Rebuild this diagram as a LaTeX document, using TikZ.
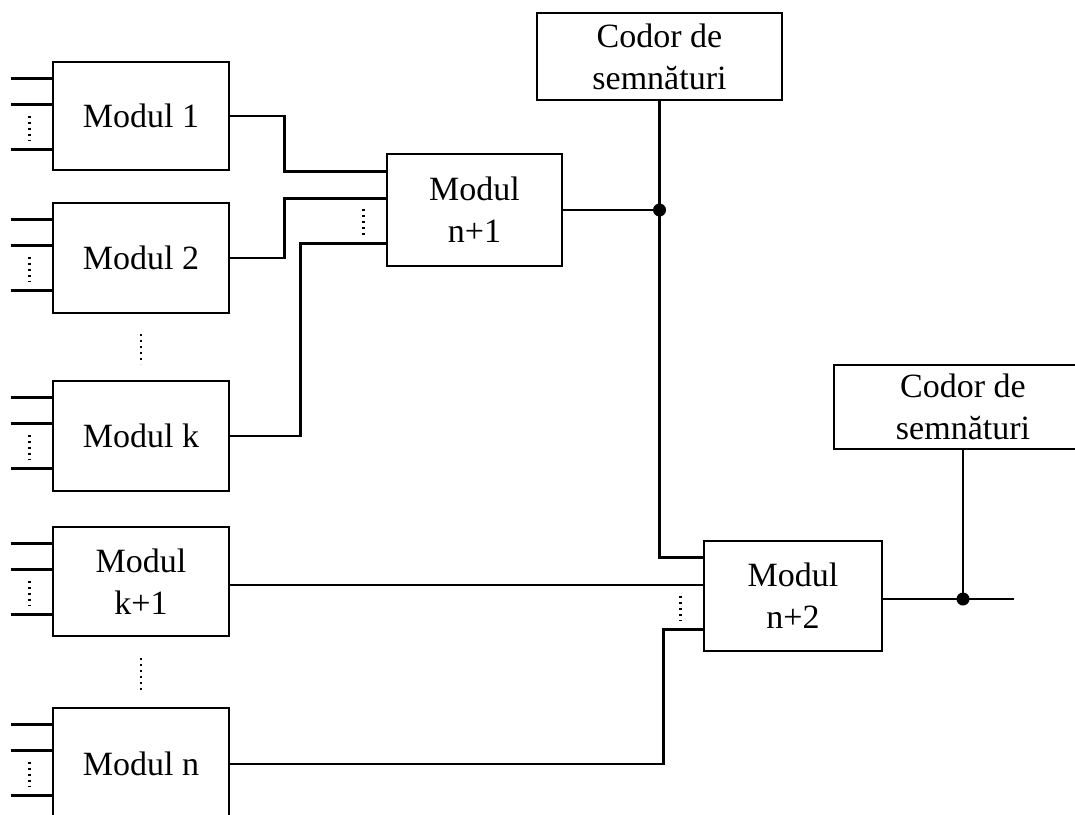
\documentclass[tikz,border=0pt]{standalone}
\usepackage{fontspec}
\setmainfont{Liberation Serif}
\usetikzlibrary{calc}
\begin{document}
\begin{tikzpicture}[x=0.5pt,y=-0.5pt,
  box/.style={draw, line width=1.4pt, inner sep=0pt, align=center,
    font=\fontsize{17}{21}\selectfont},
  modbox/.style={box, minimum width=88pt, minimum height=55pt},
  wire/.style={line width=1.4pt},
  dotline/.style={line width=1.2pt, dash pattern=on 1pt off 2pt},
  junction/.style={circle, fill, inner sep=0pt, minimum size=6.5pt}]
\useasboundingbox (0,0) rectangle (1075,814);
\clip (0,0) rectangle (1075,814);
\fill[white] (0,0) rectangle (1075,814);
% modules
\node[modbox, minimum height=54pt] (m1) at (141,116) {Modul 1};
\node[modbox] (m2) at (141,258) {Modul 2};
\node[modbox] (mk) at (141,436) {Modul k};
\node[modbox, minimum height=54.5pt] (mk1) at (141,581.5) {Modul\\k+1};
\node[modbox, minimum height=56pt] (mn) at (141,764) {Modul n};
\node[box, minimum width=87.5pt, minimum height=56pt] (n1) at (474.5,210) {Modul\\n+1};
\node[box, minimum width=89pt, minimum height=55pt] (n2) at (793,596) {Modul\\n+2};
\node[box, minimum width=122.5pt, minimum height=43.5pt] (c1) at (659.5,56.5) {Codor de\\semnături};
\node[box, minimum width=129pt, minimum height=42pt] (c2) at (963,407) {Codor de\\semnături};
% input stubs
\foreach \m in {m1,m2,mk,mk1,mn} {
  \draw[wire] ($(\m.north west)+(-41,18)$) -- ($(\m.north west)+(0,18)$);
  \draw[wire] ($(\m.north west)+(-41,44)$) -- ($(\m.north west)+(0,44)$);
  \draw[wire] ($(\m.north west)+(-41,89)$) -- ($(\m.north west)+(0,89)$);
  \draw[dotline] ($(\m.north west)+(-22,55)$) -- ($(\m.north west)+(-22,80)$);
}
% vertical dots between modules
\coordinate (d1a) at (141,334); \coordinate (d1b) at (141,364);
\coordinate (d2a) at (141,658); \coordinate (d2b) at (141,690);
\draw[dotline] (d1a) -- (d1b);
\draw[dotline] (d2a) -- (d2b);
% connections to n+1
\draw[wire] (m1.east) -- ++(54,0) |- ($(n1.north west)+(0,19)$);
\draw[wire] (m2.east) -- ++(54,0) |- ($(n1.north west)+(0,46)$);
\draw[wire] (mk.east) -- ++(70,0) |- ($(n1.north west)+(0,91)$);
\draw[dotline] ($(n1.north west)+(-22,56)$) -- ($(n1.north west)+(-22,83)$);
% n+1 output and coder
\coordinate (j1) at (c1.south |- n1.east);
\draw[wire] (n1.east) -- (j1);
\draw[wire] (c1.south) |- ($(n2.north west)+(0,18)$);
\node[junction] at (j1) {};
% connections to n+2
\coordinate (k1o) at ($(mk1.east)+(0,3.5)$);
\draw[wire] (k1o) -- (k1o -| n2.west);
\draw[wire] (mn.east) -- ++(433,0) |- ($(n2.north west)+(0,90)$);
\draw[dotline] ($(n2.north west)+(-22,56)$) -- ($(n2.north west)+(-22,81)$);
% n+2 output
\coordinate (out) at ($(n2.east)+(131,3)$);
\coordinate (j2) at (c2.south |- out);
\draw[wire] ($(n2.east)+(0,3)$) -- (out);
\draw[wire] (c2.south) -- (j2);
\node[junction] at (j2) {};
\end{tikzpicture}
\end{document}
